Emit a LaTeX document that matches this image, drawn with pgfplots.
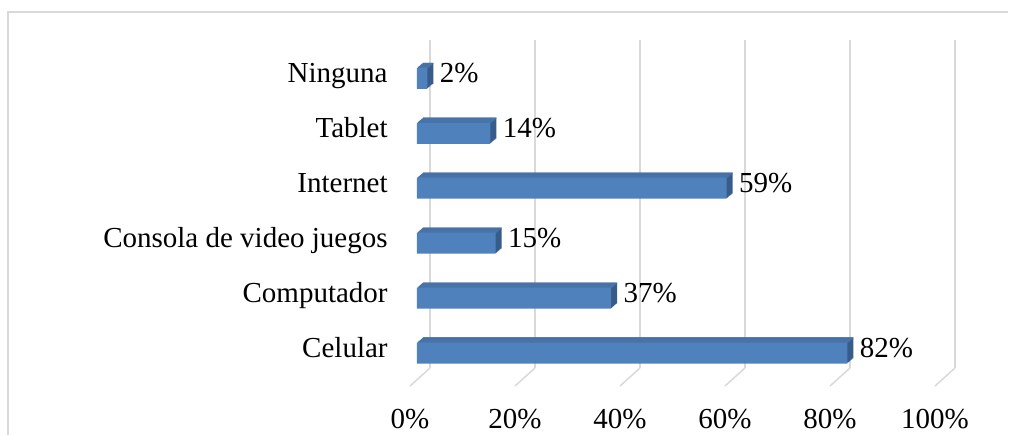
\documentclass[border=0pt]{standalone}
\usepackage{fontspec}
\setmainfont{Liberation Serif}
\usepackage{pgfplots}
\usepackage{pgfplotstable}
\pgfplotsset{compat=1.18}

\definecolor{barfront}{HTML}{4F81BD}
\definecolor{bartop}{HTML}{4873A8}
\definecolor{barside}{HTML}{375C8A}
\definecolor{gridc}{HTML}{D9D9D9}

% y = position (Celular at the bottom), v = percent
\pgfplotstableread{
y v
0 82
1 37
2 15
3 59
4 14
5 2
}\bardata

\begin{document}
\begin{tikzpicture}[font=\fontsize{14.5}{16.5}\selectfont]
\begin{axis}[
    at={(0,0)}, anchor=south west, scale only axis,
    width=262.5pt, height=164pt,
    xmin=0, xmax=100, ymin=-0.5, ymax=5.47,
    axis line style={draw=none},
    tick style={draw=none},
    xtick={0,20,...,100},
    xticklabel={\pgfmathprintnumber{\tick}\%},
    xticklabel style={anchor=base, inner sep=0pt, xshift=-10pt, yshift=-30pt},
    ytick={0,...,5},
    yticklabels={Celular,Computador,Consola de video juegos,Internet,Tablet,Ninguna},
    yticklabel style={anchor=east, inner sep=0pt, xshift=-21pt, yshift=-6.25pt,
        text height=0.7em, text depth=0.25em},
    xmajorgrids, grid style={gridc, line width=0.75pt},
    /pgf/number format/assume math mode=true,
    clip=false,
]
% floor of the 3d box
\pgfplotsinvokeforeach{0,20,...,100}{
  \draw[gridc, line width=0.75pt] (axis cs:#1,-0.5) -- ++(-10pt,-9pt);
}
% depth of the bars: side colour, stacked layers
\pgfplotsinvokeforeach{6,5,...,1}{
  \addplot[xbar, bar shift=0pt, bar width=10.5pt, fill=barside, draw=none,
    xshift={-6.5pt+#1*0.5pt}, yshift={-6.25pt+#1*0.42pt}]
    table[x=v, y=y] {\bardata};
}
% top face strips
\pgfplotsinvokeforeach{6,5,...,1}{
  \addplot[xbar, bar shift=4.95pt, bar width=0.6pt, fill=bartop, draw=none,
    xshift={-6.5pt+#1*0.5pt}, yshift={-6.25pt+#1*0.42pt}]
    table[x=v, y=y] {\bardata};
}
% front face
\addplot[xbar, bar shift=0pt, bar width=10.5pt, fill=barfront, draw=none,
    xshift=-6.5pt, yshift=-6.25pt,
    nodes near coords={\pgfmathprintnumber{\pgfplotspointmeta}\%},
    nodes near coords align=horizontal,
    every node near coord/.append style={anchor=west, inner sep=0pt, xshift=6pt,
        text height=0.7em, text depth=0.25em, text=black}]
    table[x=v, y=y] {\bardata};
\end{axis}
\draw[gridc, line width=0.7pt] (-211pt,-33.5pt) -- (-211pt,178pt) -- (289pt,178pt);
\pgfresetboundingbox
\path[use as bounding box] (-215pt,-33.5pt) rectangle (289.5pt,184pt);
\end{tikzpicture}
\end{document}
